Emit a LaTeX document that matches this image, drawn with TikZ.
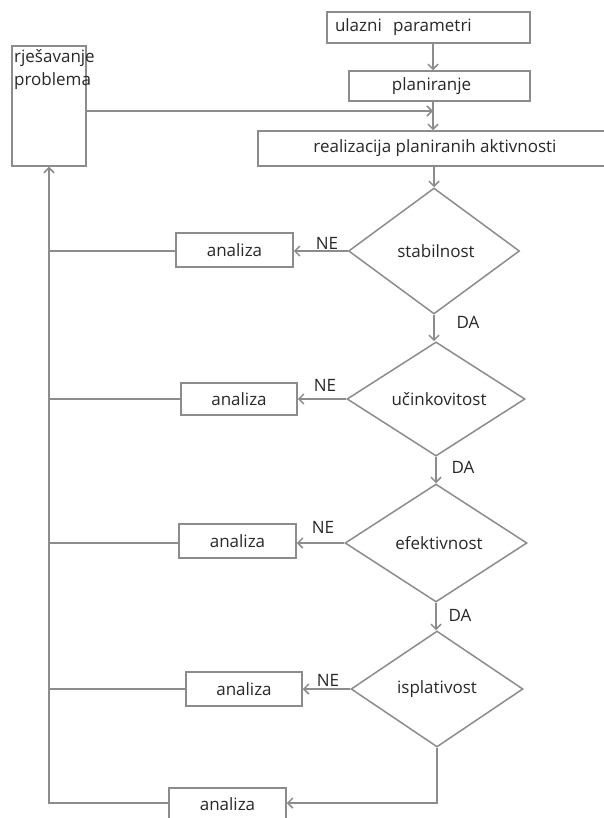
\documentclass[tikz,border=0pt]{standalone}
\usepackage{fontspec}
\setmainfont{Open Sans}
\usetikzlibrary{shapes.geometric,arrows.meta}
\definecolor{linec}{RGB}{140,140,140}
\definecolor{textc}{RGB}{40,40,40}
\begin{document}
\begin{tikzpicture}[x=1pt,y=-1pt,
  every node/.style={font=\fontsize{17}{21}\selectfont, text=textc},
  box/.style={draw=linec, line width=1.5pt, rectangle, inner sep=0pt},
  dia/.style={draw=linec, line width=1.5pt, diamond, inner sep=0pt},
  lbl/.style={inner sep=0pt},
  conn/.style={draw=linec, line width=1.5pt},
  arr/.style={conn, -{Straight Barb[length=5pt,width=10pt]}}]
\useasboundingbox (0,0) rectangle (603,818);
\fill[white] (0,0) rectangle (603,818);
% boxes
\node[box, minimum width=203pt, minimum height=31pt, text width=187pt, align=left] (ulazni) at (428.5,27.5) {ulazni\ \ parametri};
\node[box, minimum width=181pt, minimum height=30pt] (plan) at (439.5,86) {\hspace*{-16pt}planiranje};
\node[box, minimum width=354pt, minimum height=35pt] (real) at (435,148.5) {realizacija planiranih aktivnosti};
\node[box, minimum width=74pt, minimum height=120pt] (rj) at (49,106) {};
\node[lbl, anchor=north west, align=left, font=\fontsize{17}{23}\selectfont] (rjt) at (14,49) {rješavanje\\problema};
% diamonds
\node[dia, minimum width=171pt, minimum height=126pt] (stab) at (434,251) {\hspace*{4pt}stabilnost};
\node[dia, minimum width=178pt, minimum height=112pt] (uc) at (436,399) {\hspace*{6pt}učinkovitost};
\node[dia, minimum width=182pt, minimum height=118pt] (ef) at (436,543) {\hspace*{6pt}efektivnost};
\node[dia, minimum width=172pt, minimum height=116pt] (isp) at (437,689) {isplativost};
% analiza boxes
\node[box, minimum width=117pt, minimum height=34pt] (a1) at (234.5,250) {analiza};
\node[box, minimum width=116pt, minimum height=32pt] (a2) at (239,399) {analiza};
\node[box, minimum width=117pt, minimum height=34pt] (a3) at (237.5,541) {analiza};
\node[box, minimum width=116pt, minimum height=34pt] (a4) at (244,689) {analiza};
\node[box, minimum width=117pt, minimum height=32pt] (a5) at (227.5,804) {analiza};
% labels
\node[lbl] (ne1) at (327,243) {NE};
\node[lbl] (ne2) at (325,385) {NE};
\node[lbl] (ne3) at (323,527) {NE};
\node[lbl] (ne4) at (328,680) {NE};
\node[lbl] (da1) at (468,322) {DA};
\node[lbl] (da2) at (463,467) {DA};
\node[lbl] (da3) at (460,615) {DA};
% main column
\coordinate (m1) at (433,111);
\draw[arr] (ulazni.south -| m1) -- (plan.north -| m1);
\draw[arr] (plan.south -| m1) -- (real.north -| m1);
\draw[arr] (rj.east |- m1) -- (m1);
\draw[arr] (real.south -| stab.north) -- (stab.north);
\draw[arr] (stab.south) -- (stab.south |- uc.north);
\draw[arr] (uc.south) -- (uc.south |- ef.north);
\draw[arr] (ef.south) -- (ef.south |- isp.north);
% NE branches
\draw[arr] (stab.west) -- (stab.west -| a1.east);
\draw[arr] (uc.west) -- (uc.west -| a2.east);
\draw[arr] (ef.west) -- (ef.west -| a3.east);
\draw[arr] (isp.west) -- (isp.west -| a4.east);
\coordinate (b5) at (437,803);
\draw[arr] (isp.south) -- (b5) -- (b5 -| a5.east);
% feedback to rjesavanje
\draw[conn] (a1.west |- stab.west) -- (rj.south |- stab.west);
\draw[conn] (a2.west) -- (rj.south |- a2.west);
\draw[conn] (a3.west |- ef.west) -- (rj.south |- ef.west);
\draw[conn] (a4.west) -- (rj.south |- a4.west);
\draw[arr] (a5.west |- b5) -- (rj.south |- b5) -- (rj.south);
\end{tikzpicture}
\end{document}
